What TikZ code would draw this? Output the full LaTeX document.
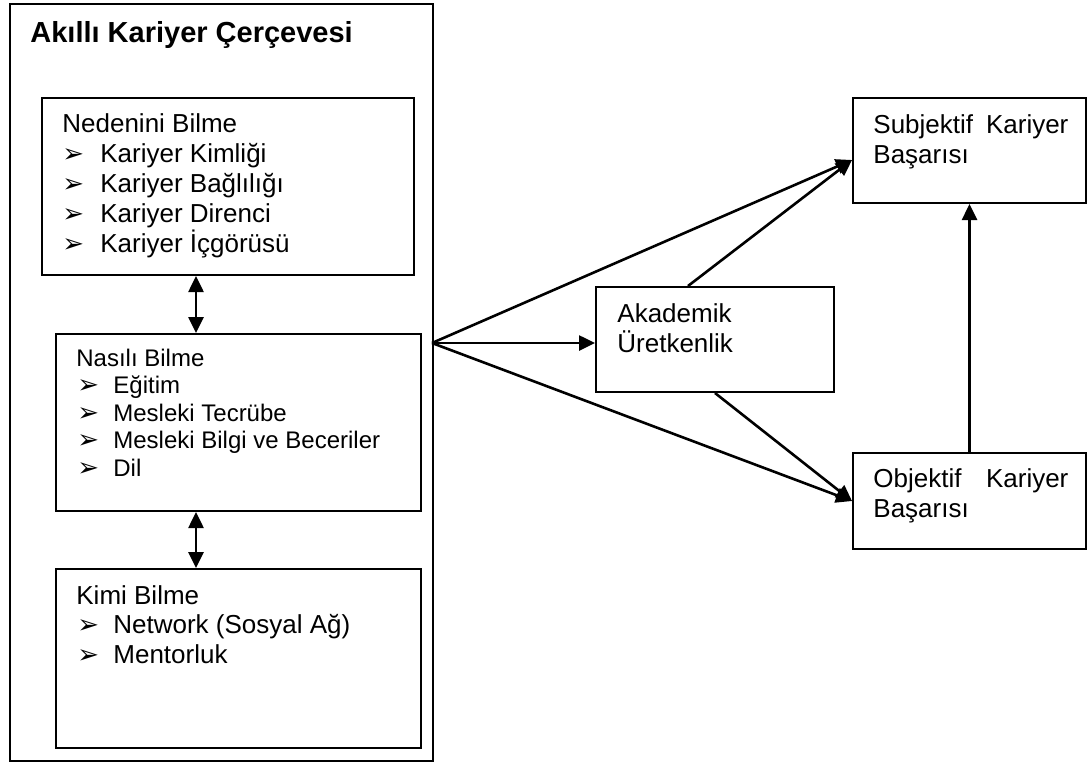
\documentclass[tikz,border=0pt]{standalone}
\usepackage{fontspec}
\setmainfont{Liberation Sans}
\newfontfamily\dejavu{DejaVu Sans}
\usetikzlibrary{arrows.meta}
\newcommand{\bul}{{\dejavu\fontsize{13}{14}\selectfont ➢}}
\tikzset{
  box/.style={draw, line width=1pt, inner sep=0pt, anchor=north west},
  head/.style={anchor=base west, inner sep=0pt, font=\fontsize{13}{15}\selectfont},
  small/.style={anchor=base west, inner sep=0pt, font=\fontsize{12}{13.75}\selectfont},
  link/.style={line width=1.3pt, -{Triangle[length=8pt,width=7.5pt]}},
  dbl/.style={line width=1.3pt, {Triangle[length=8pt,width=7.5pt]}-{Triangle[length=8pt,width=7.5pt]}},
}
\begin{document}
\begin{tikzpicture}[x=0.5pt, y=-0.5pt]
  \useasboundingbox (0,0) rectangle (1091,762);

  % left frame
  \node[box, minimum width=211.5pt, minimum height=378.5pt] (frame) at (9,3) {};
  \node[anchor=base west, inner sep=0pt, font=\bfseries\fontsize{14.5}{17}\selectfont] (title) at (30,42) {Akıllı Kariyer Çerçevesi};

  \node[box, minimum width=186pt, minimum height=88.5pt] (neden) at (41,97) {};
  \node[head] (nedenT) at (62,132) {Nedenini Bilme};
  \foreach \t [count=\i] in {Kariyer Kimliği, Kariyer Bağlılığı, Kariyer Direnci, Kariyer İçgörüsü}
    \node[head] (ned\i) at (62,132+30*\i) {\makebox[19pt][l]{\bul}\t};

  \node[box, minimum width=182.5pt, minimum height=88.5pt] (nas) at (55,333) {};
  \node[small] (nasT) at (76,366) {Nasılı Bilme};
  \foreach \t [count=\i] in {Eğitim, Mesleki Tecrübe, Mesleki Bilgi ve Beceriler, Dil}
    \node[small] (nas\i) at (77,366+27.5*\i) {\makebox[18pt][l]{\bul}\t};

  \node[box, minimum width=182.5pt, minimum height=89.5pt] (kimi) at (55,568) {};
  \node[head] (kimiT) at (76,604) {Kimi Bilme};
  \foreach \t [count=\i] in {Network (Sosyal Ağ), Mentorluk}
    \node[head] (kim\i) at (77,604+29.5*\i) {\makebox[18pt][l]{\bul}\t};

  % right side
  \node[box, minimum width=119pt, minimum height=52.5pt] (aka) at (595,286) {};
  \node[head, text width=110pt, align=left] (akaT) at (617,322) {Akademik\\Üretkenlik};

  \node[box, minimum width=116.5pt, minimum height=52.5pt] (subj) at (852,97) {};
  \node[head, text width=97.5pt, align=left] (subjT) at (873,133) {Subjektif\hfill Kariyer\\Başarısı};

  \node[box, minimum width=116.5pt, minimum height=48pt] (obj) at (852,452) {};
  \node[head, text width=97.5pt, align=left] (objT) at (873,487) {Objektif\hfill Kariyer\\Başarısı};

  % connectors
  \coordinate (src) at (432,343);
  \coordinate (ax) at (196,0);
  \coordinate (sIn) at (852,160);
  \coordinate (aTop) at (688,286);

  \draw[dbl] (neden.south -| ax) -- (nas.north -| ax);
  \draw[dbl] (nas.south -| ax) -- (kimi.north -| ax);

  \draw[link] (src) -- (aka.west |- src);
  \draw[link] (src) -- (sIn);
  \draw[link] (src) -- (obj.west);
  \draw[link] (aTop) -- (sIn);
  \draw[link] (aka.south) -- (obj.west);
  \draw[link] (obj.north) -- (subj.south);
\end{tikzpicture}
\end{document}
